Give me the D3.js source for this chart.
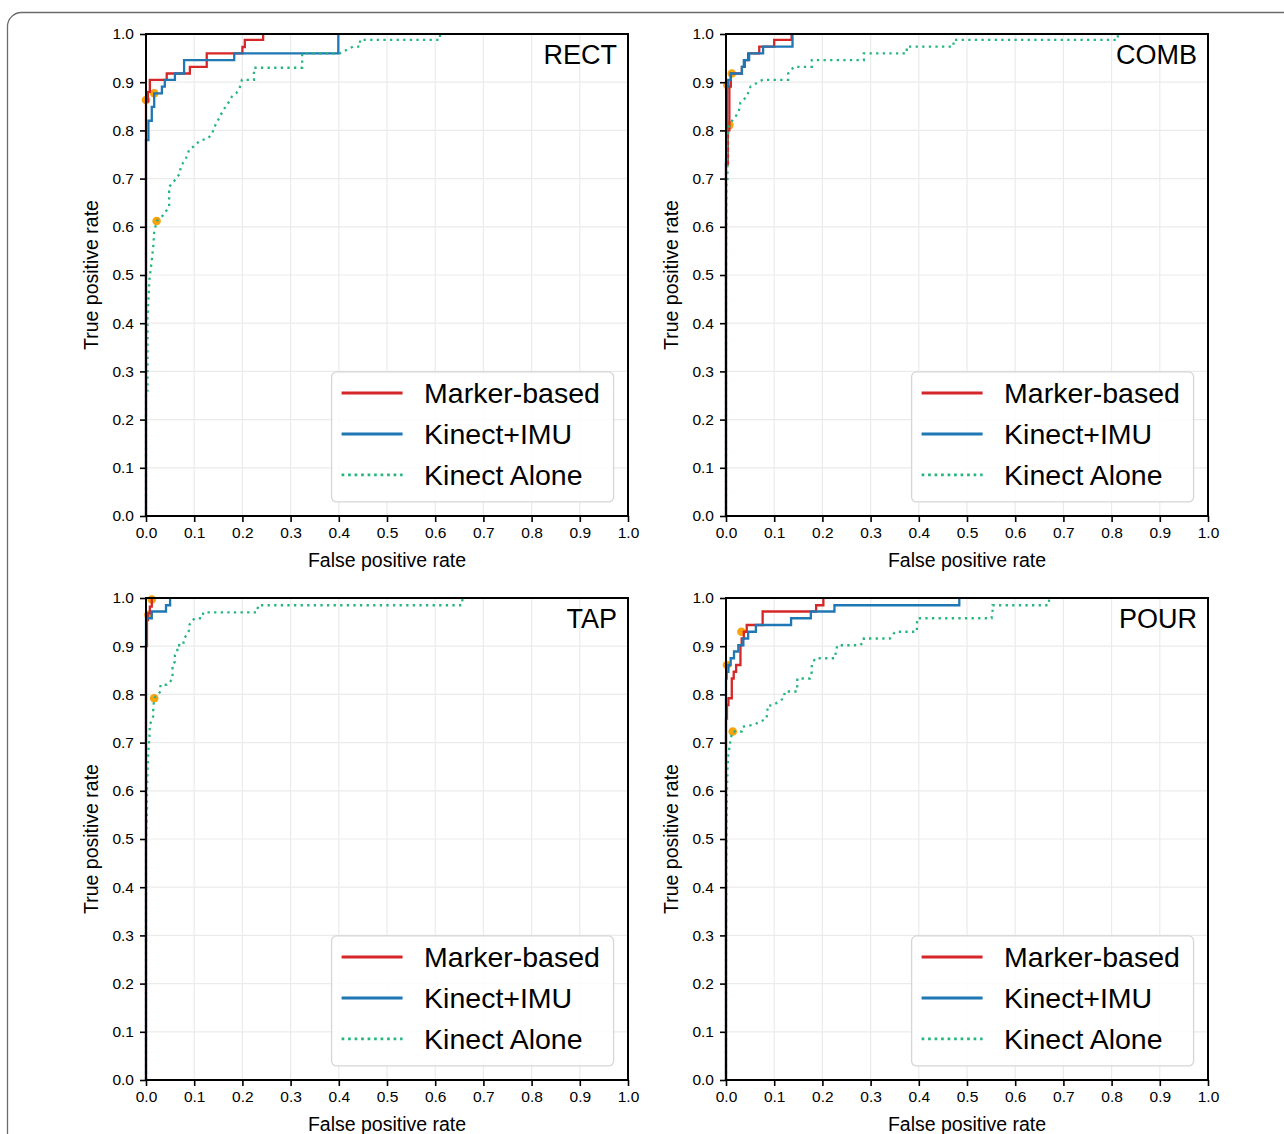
<!DOCTYPE html>
<html>
<head>
<meta charset="utf-8">
<script src="https://cdn.jsdelivr.net/npm/d3@7"></script>
<style>
  html, body { margin: 0; padding: 0; background: #fff; }
  svg { display: block; font-family: Arial, "Liberation Sans", Helvetica, sans-serif; }
</style>
</head>
<body>
<svg id="chart" width="1284" height="1134"></svg>
<script>
// ROC curves: [false positive rate, true positive rate]
const rectMarker = [[0,0],[0,0.86],[0.004,0.86],[0.004,0.88],[0.008,0.88],[0.008,0.905],[0.043,0.905],[0.043,0.918],[0.091,0.918],[0.091,0.932],[0.126,0.932],[0.126,0.96],[0.2,0.96],[0.2,0.973],[0.205,0.973],[0.205,0.988],[0.243,0.988],[0.243,1]];
const rectImu = [[0,0],[0,0.78],[0.005,0.78],[0.005,0.82],[0.012,0.82],[0.012,0.849],[0.017,0.849],[0.017,0.877],[0.033,0.877],[0.033,0.891],[0.039,0.891],[0.039,0.905],[0.06,0.905],[0.06,0.918],[0.079,0.918],[0.079,0.946],[0.183,0.946],[0.183,0.96],[0.399,0.96],[0.399,1]];
const rectAlone = [[0,0],[0,0.26],[0.003,0.26],[0.003,0.41],[0.005,0.45],[0.007,0.49],[0.012,0.53],[0.016,0.569],[0.016,0.583],[0.022,0.612],[0.036,0.624],[0.048,0.642],[0.048,0.683],[0.06,0.697],[0.0705,0.711],[0.072,0.725],[0.083,0.742],[0.09,0.761],[0.098,0.766],[0.111,0.778],[0.129,0.784],[0.138,0.794],[0.14,0.804],[0.148,0.818],[0.155,0.832],[0.16,0.842],[0.169,0.854],[0.178,0.87],[0.187,0.877],[0.194,0.887],[0.199,0.905],[0.224,0.905],[0.224,0.93],[0.324,0.93],[0.324,0.96],[0.402,0.96],[0.416,0.967],[0.43,0.974],[0.444,0.974],[0.444,0.988],[0.61,0.988],[0.61,1]];
const rectPoints = [[0,0.863],[0.017,0.877],[0.022,0.612]];

const combMarker = [[0,0],[0,0.73],[0.004,0.73],[0.004,0.80],[0.007,0.80],[0.007,0.891],[0.010,0.891],[0.010,0.918],[0.033,0.918],[0.033,0.932],[0.039,0.932],[0.039,0.946],[0.046,0.946],[0.046,0.96],[0.069,0.96],[0.069,0.974],[0.10,0.974],[0.10,0.988],[0.136,0.988],[0.136,1]];
const combImu = [[0,0],[0,0.74],[0.002,0.74],[0.002,0.891],[0.004,0.891],[0.004,0.905],[0.010,0.905],[0.010,0.918],[0.033,0.918],[0.033,0.932],[0.037,0.932],[0.037,0.946],[0.048,0.946],[0.048,0.96],[0.077,0.96],[0.077,0.974],[0.138,0.974],[0.138,1]];
const combAlone = [[0,0],[0,0.5],[0.001,0.69],[0.003,0.69],[0.003,0.784],[0.007,0.811],[0.014,0.822],[0.026,0.837],[0.030,0.858],[0.043,0.870],[0.051,0.891],[0.076,0.905],[0.129,0.905],[0.129,0.918],[0.141,0.932],[0.178,0.932],[0.178,0.946],[0.286,0.946],[0.286,0.96],[0.375,0.96],[0.375,0.974],[0.472,0.974],[0.472,0.988],[0.813,0.988],[0.813,1]];
const combPoints = [[0.003,0.894],[0.012,0.918],[0.007,0.811]];

const tapMarker = [[0,0],[0,0.90],[0.002,0.90],[0.002,0.954],[0.004,0.954],[0.004,0.968],[0.008,0.968],[0.008,0.982],[0.012,0.982],[0.012,1]];
const tapImu = [[0,0],[0,0.958],[0.012,0.958],[0.012,0.972],[0.0415,0.972],[0.0415,0.985],[0.05,0.985],[0.05,1]];
const tapAlone = [[0,0],[0,0.5],[0.002,0.55],[0.002,0.6],[0.003,0.643],[0.005,0.685],[0.007,0.709],[0.008,0.737],[0.015,0.755],[0.015,0.77],[0.017,0.792],[0.030,0.806],[0.030,0.82],[0.043,0.82],[0.05,0.826],[0.055,0.833],[0.055,0.861],[0.06,0.868],[0.06,0.882],[0.065,0.889],[0.065,0.902],[0.077,0.902],[0.079,0.916],[0.084,0.923],[0.089,0.932],[0.09,0.944],[0.095,0.953],[0.102,0.958],[0.116,0.958],[0.119,0.97],[0.23,0.97],[0.233,0.985],[0.655,0.985],[0.657,1]];
const tapPoints = [[0.005,0.965],[0.012,0.997],[0.017,0.792]];

const pourMarker = [[0,0],[0,0.75],[0.002,0.75],[0.002,0.778],[0.005,0.778],[0.005,0.792],[0.012,0.792],[0.012,0.833],[0.016,0.833],[0.016,0.847],[0.021,0.847],[0.021,0.861],[0.030,0.861],[0.030,0.902],[0.0325,0.902],[0.0325,0.916],[0.037,0.916],[0.037,0.93],[0.043,0.93],[0.043,0.944],[0.076,0.944],[0.076,0.972],[0.187,0.972],[0.187,0.985],[0.202,0.985],[0.202,1]];
const pourImu = [[0,0],[0,0.833],[0.0014,0.833],[0.0014,0.847],[0.005,0.847],[0.005,0.861],[0.0097,0.861],[0.0097,0.875],[0.0166,0.875],[0.0166,0.889],[0.0256,0.889],[0.0256,0.902],[0.036,0.902],[0.036,0.916],[0.046,0.916],[0.046,0.93],[0.062,0.93],[0.062,0.944],[0.135,0.944],[0.135,0.958],[0.176,0.958],[0.176,0.972],[0.225,0.972],[0.225,0.985],[0.484,0.985],[0.484,1]];
const pourAlone = [[0,0],[0,0.27],[0.001,0.5],[0.002,0.6],[0.003,0.647],[0.005,0.678],[0.008,0.695],[0.0097,0.709],[0.014,0.723],[0.0325,0.723],[0.0346,0.733],[0.057,0.737],[0.0705,0.743],[0.084,0.75],[0.086,0.764],[0.086,0.776],[0.098,0.778],[0.109,0.785],[0.12,0.792],[0.122,0.806],[0.147,0.806],[0.148,0.82],[0.148,0.833],[0.174,0.833],[0.178,0.847],[0.178,0.861],[0.185,0.875],[0.226,0.875],[0.228,0.889],[0.231,0.902],[0.278,0.902],[0.286,0.909],[0.286,0.916],[0.34,0.916],[0.351,0.93],[0.396,0.93],[0.396,0.944],[0.397,0.958],[0.551,0.958],[0.553,0.972],[0.553,0.985],[0.669,0.985],[0.671,1]];
const pourPoints = [[0.002,0.861],[0.032,0.93],[0.014,0.723]];

const titles = ["RECT", "COMB", "TAP", "POUR"];
const seriesNames = ["Marker-based", "Kinect+IMU", "Kinect Alone"];
const ticks = [0, 0.1, 0.2, 0.3, 0.4, 0.5, 0.6, 0.7, 0.8, 0.9, 1.0];
const xLabel = "False positive rate";
const yLabel = "True positive rate";

const panels = [
  { title: titles[0], curves: [rectMarker, rectImu, rectAlone], points: rectPoints, left: 146, top: 34 },
  { title: titles[1], curves: [combMarker, combImu, combAlone], points: combPoints, left: 726, top: 34 },
  { title: titles[2], curves: [tapMarker, tapImu, tapAlone], points: tapPoints, left: 146, top: 598 },
  { title: titles[3], curves: [pourMarker, pourImu, pourAlone], points: pourPoints, left: 726, top: 598 }
];

const colors = ["#d62728", "#1f77b4", "#25b67e"];
const pointColor = "#f8a20c";
const size = 482;

const svg = d3.select("#chart");

// outer frame with rounded corner running off the page
svg.append("rect")
  .attr("x", 7.5).attr("y", 12.5)
  .attr("width", 1400).attr("height", 1300)
  .attr("rx", 14).attr("ry", 14)
  .attr("fill", "none").attr("stroke", "#6b6b6b").attr("stroke-width", 1.3);

const x = d3.scaleLinear().domain([0, 1]).range([0, size]);
const y = d3.scaleLinear().domain([0, 1]).range([size, 0]);
const line = d3.line().x(d => x(d[0])).y(d => y(d[1]));

panels.forEach(p => {
  const g = svg.append("g").attr("transform", `translate(${p.left},${p.top})`);

  // grid
  g.append("g").selectAll("line").data(ticks).join("line")
    .attr("x1", d => x(d)).attr("x2", d => x(d))
    .attr("y1", 0).attr("y2", size)
    .attr("stroke", "#ebebeb").attr("stroke-width", 1.2);
  g.append("g").selectAll("line").data(ticks).join("line")
    .attr("y1", d => y(d)).attr("y2", d => y(d))
    .attr("x1", 0).attr("x2", size)
    .attr("stroke", "#ebebeb").attr("stroke-width", 1.2);

  // operating points
  g.append("g").selectAll("circle").data(p.points).join("circle")
    .attr("cx", d => x(d[0])).attr("cy", d => y(d[1]))
    .attr("r", 4.3).attr("fill", pointColor);

  // curves
  p.curves.forEach((c, i) => {
    g.append("path").datum(c)
      .attr("d", line)
      .attr("fill", "none")
      .attr("stroke", colors[i])
      .attr("stroke-width", 2.3)
      .attr("stroke-dasharray", i === 2 ? "2.3,4.3" : null)
      .attr("stroke-linejoin", "miter");
  });

  // axes
  const xAxis = g.append("g").attr("transform", `translate(0,${size})`)
    .call(d3.axisBottom(x).tickValues(ticks).tickFormat(d3.format(".1f")).tickSizeOuter(0).tickSize(6).tickPadding(5));
  const yAxis = g.append("g")
    .call(d3.axisLeft(y).tickValues(ticks).tickFormat(d3.format(".1f")).tickSizeOuter(0).tickSize(6).tickPadding(6));
  [xAxis, yAxis].forEach(a => {
    a.select(".domain").remove();
    a.selectAll(".tick line").attr("stroke", "#000").attr("stroke-width", 1.6);
    a.selectAll(".tick text").attr("fill", "#000").style("font-size", "15.5px")
      .style("font-family", "Arial, 'Liberation Sans', sans-serif");
  });

  // spines
  g.append("rect").attr("x", 0).attr("y", 0).attr("width", size).attr("height", size)
    .attr("fill", "none").attr("stroke", "#000").attr("stroke-width", 2);

  // axis labels
  g.append("text").attr("x", size / 2).attr("y", size + 51)
    .attr("text-anchor", "middle").style("font-size", "19.5px").attr("fill", "#000")
    .text(xLabel);
  g.append("text").attr("transform", `translate(-48,${size / 2}) rotate(-90)`)
    .attr("text-anchor", "middle").style("font-size", "19.5px").attr("fill", "#000")
    .text(yLabel);

  // panel title
  g.append("text").attr("x", size - 11).attr("y", 30)
    .attr("text-anchor", "end").style("font-size", "27px").attr("fill", "#000")
    .text(p.title);

  // legend
  const lg = g.append("g").attr("transform", `translate(${x(0.384)},${y(0.3)})`);
  lg.append("rect").attr("x", 0.5).attr("y", 0.5).attr("width", 282).attr("height", 130)
    .attr("rx", 5).attr("ry", 5)
    .attr("fill", "#fff").attr("fill-opacity", 0.85)
    .attr("stroke", "#d6d6d6").attr("stroke-width", 1.3);
  seriesNames.forEach((name, i) => {
    const yy = 21.5 + i * 41;
    lg.append("line").attr("x1", 10.5).attr("x2", 71.5).attr("y1", yy).attr("y2", yy)
      .attr("stroke", colors[i]).attr("stroke-width", i === 2 ? 2.7 : 3)
      .attr("stroke-dasharray", i === 2 ? "2.7,3.8" : null);
    lg.append("text").attr("x", 93).attr("y", yy + 10.3)
      .style("font-size", "28.5px").attr("fill", "#000").text(name);
  });
});
</script>
</body>
</html>
